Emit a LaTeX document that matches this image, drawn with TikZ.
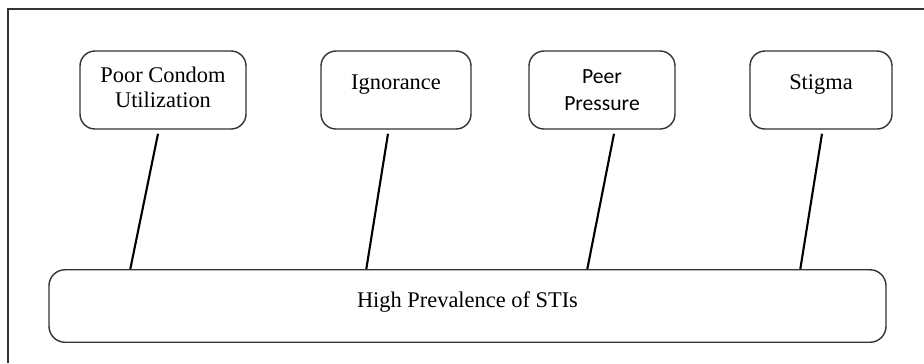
\documentclass[tikz,border=0pt]{standalone}
\usepackage{fontspec}
\setmainfont{Liberation Serif}
\newfontfamily\calibrifont{Carlito}
\usepackage{tikz}

\tikzset{
	cause/.style = {draw = black!80, line width = 0.8pt, rounded corners = 0.3cm, inner xsep = 0pt, inner ysep = 0pt, align = center, font = \fontsize{12.75}{14.2}\selectfont},
	effect/.style = {cause, rounded corners = 0.32cm},
	link/.style = {draw = black, line width = 1.2pt}
}

\begin{document}
\begin{tikzpicture}
		\useasboundingbox (0,0) rectangle (18.48,-7.26);
		\draw[black!80, line width = 0.6pt] (0.16,-7.26) -- (0.16,-0.18) -- (18.48,-0.18);
		% causes
		\node[cause, minimum width = 3.32cm, text height = 1.13cm, text depth = 0.43cm] (Condom) at (3.26,-1.8) {Poor Condom\\Utilization};
		\node[cause, minimum width = 3.0cm, text height = 0.77cm, text depth = 0.79cm] (Ignorance) at (7.92,-1.8) {Ignorance};
		\node[cause, minimum width = 2.92cm, text height = 1.18cm, text depth = 0.38cm, font = \calibrifont\fontsize{12.3}{15.3}\selectfont] (Peer) at (12.04,-1.8) {Peer\\Pressure};
		\node[cause, minimum width = 2.84cm, text height = 0.77cm, text depth = 0.79cm] (Stigma) at (16.42,-1.8) {Stigma};
		% effect
		\node[effect, minimum width = 16.74cm, text height = 0.75cm, text depth = 0.7cm] (STI) at (9.35,-6.12) {High Prevalence of STIs};
		% links
		\draw[link] ([xshift = -0.1cm, yshift = -0.08cm]Condom.south) -- ([xshift = 1.64cm]STI.north west);
		\draw[link] ([xshift = -0.16cm, yshift = -0.08cm]Ignorance.south) -- ([xshift = 6.36cm]STI.north west);
		\draw[link] ([xshift = 0.24cm, yshift = -0.08cm]Peer.south) -- ([xshift = 10.78cm]STI.north west);
		\draw[link] ([xshift = 0.02cm, yshift = -0.08cm]Stigma.south) -- ([xshift = 15.04cm]STI.north west);
	\end{tikzpicture}
\end{document}
